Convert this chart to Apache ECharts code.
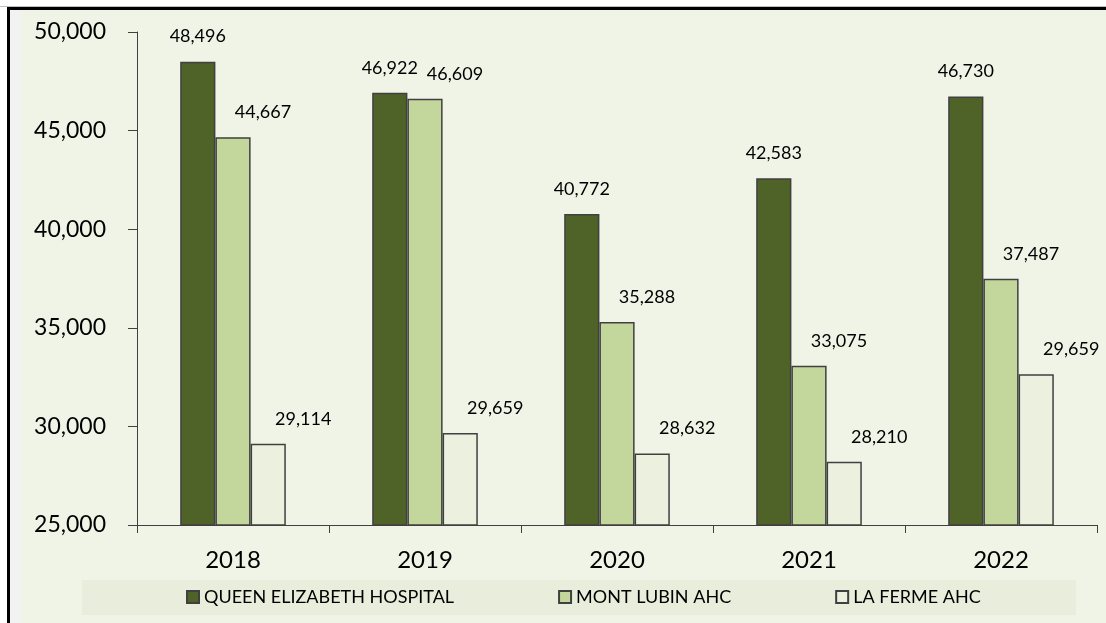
<!DOCTYPE html>
<html>
<head>
<meta charset="utf-8">
<script src="https://cdn.jsdelivr.net/npm/echarts@6/dist/echarts.min.js"></script>
<style>
    body{ margin:0; background:#fff; }
    .topline{ position:absolute; left:0; top:6px; width:1106px; height:1px; background:#c0c0c0; }
    .frame{
        position:absolute; left:7px; top:7px; width:1099px; height:616px;
        box-sizing:border-box; border-top:3px solid #000; border-left:3px solid #000;
        background:#f2f2f2;
    }
    .plotbg{ position:absolute; left:21px; top:10px; right:0; bottom:0; background:#f0f4e7; }
    .legendbg{ position:absolute; left:82px; top:580px; width:994px; height:35px; background:#e9eedc; }
    .chart{ position:absolute; left:0; top:0; width:1106px; height:623px; }
</style>
</head>
<body>
<div class="topline"></div>
<div class="frame"></div>
<div class="plotbg"></div>
<div class="legendbg"></div>
<div class="chart" id="chart"></div>

<script>
// categories and values
var years = ['2018', '2019', '2020', '2021', '2022'];
var queenElizabeth = [48496, 46922, 40772, 42583, 46730];
var montLubin = [44667, 46609, 35288, 33075, 37487];
var laFerme = [29114, 29659, 28632, 28210, 32650];
// the last La Ferme bar is labelled differently from its height in the source
var laFermeLabels = ['29,114', '29,659', '28,632', '28,210', '29,659'];
var seriesNames = ['QUEEN ELIZABETH HOSPITAL', 'MONT LUBIN AHC', 'LA FERME AHC'];

var font = 'Lato, "Open Sans", sans-serif';

function fmt(v){
    return Number(v).toLocaleString('en-US');
}

// shared bar settings
function makeBar(name, data, color, dx, labels){
    return {
        name: name,
        type: 'bar',
        data: data,
        barGap: '0%',
        barCategoryGap: '45%',
        itemStyle: {
            color: color,
            borderColor: '#404040',
            borderWidth: 1.5
        },
        label: {
            show: true,
            position: 'top',
            distance: 16,
            offset: [dx, 0],
            color: '#000',
            fontFamily: font,
            fontSize: 18,
            formatter: function(p){
                return labels ? labels[p.dataIndex] : fmt(p.value);
            }
        }
    };
}

var option = {
    backgroundColor: 'transparent',
    animation: false,
    grid: {
        left: 137,
        right: 9,
        top: 32,
        bottom: 98
    },
    legend: {
        data: seriesNames,
        left: 186,
        top: 588,
        padding: 0,
        itemGap: 104,
        itemWidth: 12,
        itemHeight: 12,
        icon: 'rect',
        textStyle: {
            fontFamily: font,
            fontSize: 18,
            color: '#000'
        }
    },
    xAxis: {
        type: 'category',
        data: years,
        axisLine: { lineStyle: { color: '#404040', width: 1 } },
        axisTick: { show: true, length: 8, lineStyle: { color: '#404040' } },
        axisLabel: {
            margin: 23,
            color: '#000',
            fontFamily: font,
            fontSize: 24
        }
    },
    yAxis: {
        type: 'value',
        min: 25000,
        max: 50000,
        interval: 5000,
        axisLine: { show: true, lineStyle: { color: '#404040', width: 1 } },
        axisTick: { show: true, length: 9, lineStyle: { color: '#404040' } },
        splitLine: { show: false },
        axisLabel: {
            margin: 31,
            color: '#000',
            fontFamily: font,
            fontSize: 23,
            formatter: fmt
        }
    },
    series: [
        makeBar(seriesNames[0], queenElizabeth, '#4f6228', 0),
        makeBar(seriesNames[1], montLubin, '#c3d69b', 30),
        makeBar(seriesNames[2], laFerme, '#ebf1de', 35, laFermeLabels)
    ]
};

var myChart = echarts.init(document.getElementById('chart'));
myChart.setOption(option);
</script>
</body>
</html>
